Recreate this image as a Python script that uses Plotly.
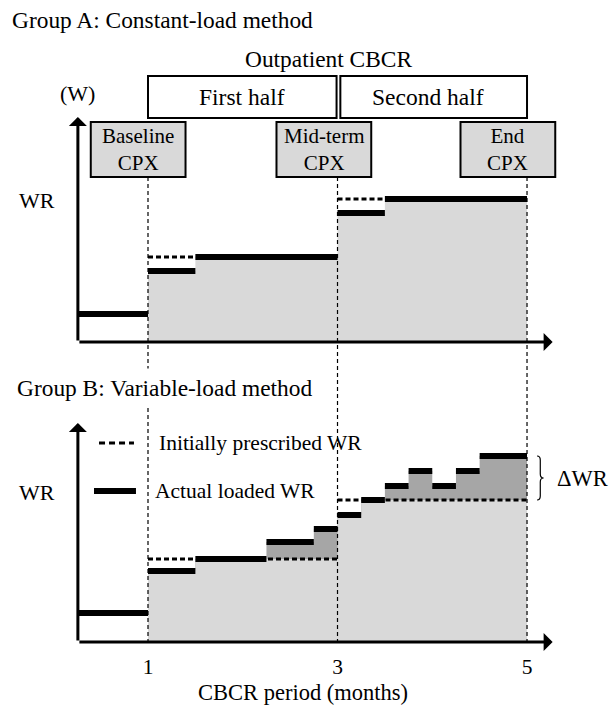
import plotly.graph_objects as go

FONT = "Liberation Serif, Times New Roman, serif"
FS_TITLE = 23.4
FS_HALF = 23.5
FS_CPX = 21
FS_LEG = 21.5
FS_LAB = 22
FS_TICK = 21.5

# ---------------- data ----------------
tick_vals = [1, 3, 5]
halves = [1.0, 3.0, 5.0]
half_labels = ["First half", "Second half"]
cpx_labels = ["Baseline<br>CPX", "Mid-term<br>CPX", "End<br>CPX"]

# Group A: constant-load method
months_A = [1.0, 1.5, 3.0, 3.5, 5.0]          # segment boundaries
actual_A = [7.1, 8.5, 12.9, 14.3]             # actual loaded WR per segment
prescribed_A = [8.5, 14.3]                    # initially prescribed WR per half
baseline_A = 2.8

# Group B: variable-load method
months_B = [1.0, 1.5, 2.25, 2.75, 3.0, 3.25, 3.5, 3.75, 4.0, 4.25, 4.5, 5.0]
actual_B = [7.1, 8.3, 10.0, 11.3, 12.7, 14.2, 15.6, 17.1, 15.6, 17.1, 18.6]
prescribed_B = [8.3, 14.2]
baseline_B = 2.9

# ---------------- layout geometry ----------------
X_RANGE = [-0.562, 5.918]
YA_RANGE = [-36.7, 34.2]     # top panel
YB_RANGE = [-6.7, 64.2]      # bottom panel
x_origin = 0.26
x_end = 5.27
LIGHT = "#d9d9d9"
DARK = "#a6a6a6"


def yb_to_ya(v):
    # convert bottom-panel value into top-panel axis units (same pixel scale)
    return v - (YB_RANGE[1] - YA_RANGE[1])


def step_xy(bounds, vals):
    return list(bounds), list(vals) + [vals[-1]]


def seg_xy(bounds, vals):
    xs, ys = [], []
    for i, v in enumerate(vals):
        xs += [bounds[i], bounds[i + 1], None]
        ys += [v, v, None]
    return xs, ys


def prescribed_at(bounds, vals, presc):
    out = []
    for i in range(len(vals)):
        mid = 0.5 * (bounds[i] + bounds[i + 1])
        h = 0 if mid < halves[1] else 1
        out.append(presc[h])
    return out


fig = go.Figure()

# ---- Panel A ----
sx, sy = step_xy(months_A, actual_A)
fig.add_trace(go.Scatter(x=sx, y=sy, mode="lines", line=dict(width=0, shape="hv"),
                         fill="tozeroy", fillcolor=LIGHT, yaxis="y", showlegend=False,
                         hoverinfo="skip"))
px_, py_ = seg_xy(halves, prescribed_A)
fig.add_trace(go.Scatter(x=px_, y=py_, mode="lines", yaxis="y", showlegend=False,
                         line=dict(color="black", width=3, dash="5px,3px")))
ax_, ay_ = seg_xy(months_A, actual_A)
ax_ += [x_origin, halves[0], None]
ay_ += [baseline_A, baseline_A, None]
fig.add_trace(go.Scatter(x=ax_, y=ay_, mode="lines", yaxis="y", showlegend=False,
                         line=dict(color="black", width=6)))

# ---- Panel B ----
sx, sy = step_xy(months_B, actual_B)
fig.add_trace(go.Scatter(x=sx, y=sy, mode="lines", line=dict(width=0, shape="hv"),
                         fill="tozeroy", fillcolor=DARK, yaxis="y2", showlegend=False,
                         hoverinfo="skip"))
pres_seg = prescribed_at(months_B, actual_B, prescribed_B)
low = [min(a, p) for a, p in zip(actual_B, pres_seg)]
sx, sy = step_xy(months_B, low)
fig.add_trace(go.Scatter(x=sx, y=sy, mode="lines", line=dict(width=0, shape="hv"),
                         fill="tozeroy", fillcolor=LIGHT, yaxis="y2", showlegend=False,
                         hoverinfo="skip"))
px_, py_ = seg_xy(halves, prescribed_B)
fig.add_trace(go.Scatter(x=px_, y=py_, mode="lines", yaxis="y2", showlegend=False,
                         line=dict(color="black", width=3, dash="5px,3px")))
bx_, by_ = seg_xy(months_B, actual_B)
bx_ += [x_origin, halves[0], None]
by_ += [baseline_B, baseline_B, None]
fig.add_trace(go.Scatter(x=bx_, y=by_, mode="lines", yaxis="y2", showlegend=False,
                         line=dict(color="black", width=6)))

shapes = []
annotations = []

# dashed vertical guide lines (from CPX boxes down to the bottom axis)
for t in tick_vals:
    shapes.append(dict(type="line", xref="x", yref="y", x0=t, x1=t, y0=16.5, y1=yb_to_ya(0),
                       line=dict(color="black", width=1.2, dash="4px,3px"), layer="above"))

# half boxes
half_boxes = [(halves[0], halves[1] - 0.01), (halves[1] + 0.03, halves[2])]
half_text_shift = [0.0, -0.055]
for (x0, x1), lab, dx in zip(half_boxes, half_labels, half_text_shift):
    shapes.append(dict(type="rect", xref="x", yref="y", x0=x0, x1=x1, y0=22.4, y1=26.6,
                       line=dict(color="black", width=2), fillcolor="white"))
    annotations.append(dict(x=(x0 + x1) / 2 + dx, y=24.5, xref="x", yref="y", text=lab,
                            showarrow=False, font=dict(size=FS_HALF)))
annotations.append(dict(x=halves[1] - 0.1, y=28.3, xref="x", yref="y", text="Outpatient CBCR",
                        showarrow=False, font=dict(size=FS_TITLE)))

# CPX boxes
cpx_centers = [0.896, 2.856, 4.798]
for c, lab in zip(cpx_centers, cpx_labels):
    shapes.append(dict(type="rect", xref="x", yref="y", x0=c - 0.5, x1=c + 0.5, y0=16.5, y1=22.0,
                       line=dict(color="black", width=2), fillcolor=LIGHT))
    annotations.append(dict(x=c, y=19.25, xref="x", yref="y", text=lab, showarrow=False,
                            font=dict(size=FS_CPX)))

# axes arrows
for yr, tip in (("y", 22.5), ("y2", 21.9)):
    annotations.append(dict(x=x_origin, y=tip, ax=x_origin, ay=0, xref="x", yref=yr,
                            axref="x", ayref=yr, text="", showarrow=True, arrowhead=1,
                            arrowsize=1, arrowwidth=3, arrowcolor="black", standoff=0))
    annotations.append(dict(x=x_end, y=0, ax=x_origin, ay=0, xref="x", yref=yr,
                            axref="x", ayref=yr, text="", showarrow=True, arrowhead=1,
                            arrowsize=1, arrowwidth=3, arrowcolor="black", standoff=0))

annotations.append(dict(x=x_origin, y=24.9, xref="x", yref="y", text="(W)", showarrow=False,
                        font=dict(size=FS_LAB)))
annotations.append(dict(x=-0.17, y=14.2, xref="x", yref="y", text="WR", showarrow=False,
                        font=dict(size=FS_LAB)))
annotations.append(dict(x=-0.17, y=15.0, xref="x", yref="y2", text="WR", showarrow=False,
                        font=dict(size=FS_LAB)))

# titles
annotations.append(dict(x=10 / 614, y=1 - 20 / 709, xref="paper", yref="paper", xanchor="left",
                        yanchor="middle", text="Group A: Constant-load method",
                        showarrow=False, font=dict(size=FS_TITLE)))
annotations.append(dict(x=10 / 614, y=1 - 388 / 709, xref="paper", yref="paper", xanchor="left",
                        yanchor="middle", text="Group B: Variable-load method",
                        showarrow=False, font=dict(size=FS_TITLE), bgcolor="white", borderpad=6))
annotations.append(dict(x=303 / 614, y=1 - 692 / 709, xref="paper", yref="paper",
                        yanchor="middle", xanchor="center", text="CBCR period (months)",
                        showarrow=False, font=dict(size=22.5)))

# legend (panel B)
shapes.append(dict(type="line", xref="x", yref="y2", x0=0.483, x1=0.852, y0=19.9, y1=19.9,
                   line=dict(color="black", width=3, dash="6px,4px")))
shapes.append(dict(type="line", xref="x", yref="y2", x0=0.43, x1=0.873, y0=15.1, y1=15.1,
                   line=dict(color="black", width=6)))
annotations.append(dict(x=1.095, y=19.9, xref="x", yref="y2", xanchor="left",
                        text="Initially prescribed WR", showarrow=False, font=dict(size=FS_LEG)))
annotations.append(dict(x=1.053, y=15.1, xref="x", yref="y2", xanchor="left",
                        text="Actual loaded WR", showarrow=False, font=dict(size=FS_LEG)))

# delta WR brace
top = max(actual_B)
bot = prescribed_B[1]
mid = (top + bot) / 2
bx0, bx1, bx2 = 5.106, 5.14, 5.175
path = (f"M {bx0},{top} Q {bx1},{top} {bx1},{top-0.4} L {bx1},{mid+0.4} "
        f"Q {bx1},{mid} {bx2},{mid} Q {bx1},{mid} {bx1},{mid-0.4} "
        f"L {bx1},{bot+0.4} Q {bx1},{bot} {bx0},{bot}")
shapes.append(dict(type="path", xref="x", yref="y2", path=path,
                   line=dict(color="black", width=1.2)))
annotations.append(dict(x=5.296, y=mid, xref="x", yref="y2", xanchor="left",
                        text="ΔWR", showarrow=False, font=dict(size=22.5)))

fig.update_layout(
    width=614, height=709,
    margin=dict(l=0, r=0, t=0, b=0),
    paper_bgcolor="white", plot_bgcolor="white",
    font=dict(family=FONT, size=FS_LAB, color="black"),
    showlegend=False,
    xaxis=dict(range=X_RANGE, anchor="free", position=67 / 709, tickvals=tick_vals,
               ticktext=[str(t) for t in tick_vals], showgrid=False, zeroline=False,
               showline=False, ticks="", tickfont=dict(size=FS_TICK), fixedrange=True,
               automargin=False, ticklabelstandoff=9),
    yaxis=dict(range=YA_RANGE, domain=[0, 1], visible=False, fixedrange=True),
    yaxis2=dict(range=YB_RANGE, domain=[0, 1], overlaying="y", visible=False, fixedrange=True),
    shapes=shapes,
    annotations=annotations,
)

fig.write_html("out.html", config={"displayModeBar": False},
               post_script="document.body.style.margin='0';document.body.style.overflow='hidden';")
